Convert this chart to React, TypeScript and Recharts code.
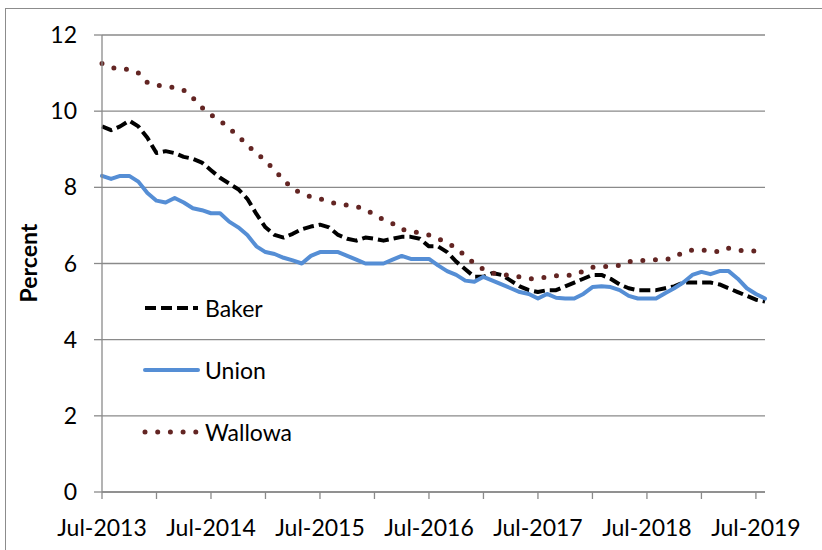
import React from 'react';
import { LineChart, Line, XAxis, YAxis, CartesianGrid, Label } from 'recharts';

// monthly, Jul-2013 .. Aug-2019
const MONTHS: string[] = [];
const MON_NAMES = ['Jul', 'Aug', 'Sep', 'Oct', 'Nov', 'Dec', 'Jan', 'Feb', 'Mar', 'Apr', 'May', 'Jun'];
for (let i = 0; i < 74; i++) {
  const year = 2013 + Math.floor((i + 6) / 12);
  MONTHS.push(`${MON_NAMES[i % 12]}-${year}`);
}

const BAKER = [
  9.6, 9.5, 9.6, 9.75, 9.6, 9.3, 8.9, 8.95, 8.9, 8.8, 8.75, 8.65,
  8.45, 8.25, 8.1, 7.95, 7.7, 7.3, 6.95, 6.75, 6.68, 6.78, 6.9, 6.97,
  7.02, 6.95, 6.75, 6.65, 6.6, 6.68, 6.65, 6.6, 6.65, 6.7, 6.7, 6.65,
  6.45, 6.45, 6.3, 6.05, 5.85, 5.65, 5.65, 5.75, 5.7, 5.55, 5.4, 5.3,
  5.25, 5.3, 5.3, 5.4, 5.5, 5.6, 5.7, 5.7, 5.6, 5.45, 5.35, 5.3,
  5.3, 5.3, 5.35, 5.4, 5.5, 5.5, 5.5, 5.5, 5.45, 5.35, 5.25, 5.15,
  5.05, 5.0,
];

const UNION = [
  8.3, 8.22, 8.3, 8.3, 8.15, 7.85, 7.65, 7.6, 7.72, 7.6, 7.45, 7.4,
  7.32, 7.32, 7.1, 6.95, 6.75, 6.45, 6.3, 6.25, 6.15, 6.08, 6.0, 6.2,
  6.3, 6.3, 6.3, 6.2, 6.1, 6.0, 6.0, 6.0, 6.1, 6.2, 6.12, 6.12,
  6.12, 5.95, 5.8, 5.7, 5.55, 5.52, 5.65, 5.55, 5.45, 5.35, 5.25, 5.2,
  5.08, 5.2, 5.1, 5.08, 5.08, 5.2, 5.38, 5.4, 5.38, 5.3, 5.15, 5.08,
  5.08, 5.08, 5.22, 5.35, 5.5, 5.7, 5.78, 5.72, 5.8, 5.8, 5.6, 5.35,
  5.2, 5.08,
];

const WALLOWA = [
  11.25, 11.15, 11.1, 11.1, 11.0, 10.75, 10.68, 10.65, 10.62, 10.55, 10.35, 10.1,
  9.9, 9.75, 9.55, 9.35, 9.1, 8.9, 8.7, 8.45, 8.2, 7.95, 7.85, 7.75,
  7.7, 7.62, 7.56, 7.53, 7.5, 7.42, 7.28, 7.15, 7.05, 6.9, 6.85, 6.8,
  6.75, 6.65, 6.55, 6.4, 6.2, 6.0, 5.85, 5.75, 5.7, 5.7, 5.65, 5.6,
  5.6, 5.65, 5.68, 5.68, 5.7, 5.8, 5.9, 5.92, 5.92, 5.95, 6.05, 6.05,
  6.1, 6.1, 6.1, 6.15, 6.3, 6.35, 6.35, 6.35, 6.3, 6.4, 6.35, 6.33,
  6.33, 6.33,
];

const X_TICKS = [0, 6, 12, 18, 24, 30, 36, 42, 48, 54, 60, 66, 72];
const Y_TICKS = [0, 2, 4, 6, 8, 10, 12];

const SERIES = [
  { key: 'Baker', color: '#000000', width: 4, dash: '11 5', cap: 'butt' as const },
  { key: 'Union', color: '#558ed5', width: 4, dash: undefined, cap: 'round' as const },
  { key: 'Wallowa', color: '#632523', width: 5, dash: '0 12.7', cap: 'round' as const },
];

const data = MONTHS.map((m, i) => ({
  idx: i,
  month: m,
  Baker: BAKER[i],
  Union: UNION[i],
  Wallowa: WALLOWA[i],
}));

const FONT = 'Lato, "Open Sans", sans-serif';
const AXIS_COLOR = '#8a8a8a';

const ChartLegend: React.FC = () => (
  <div style={{ position: 'absolute', left: 141, top: 277, fontFamily: FONT, fontSize: 23, color: '#000' }}>
    {SERIES.map(s => (
      <div key={s.key} style={{ display: 'flex', alignItems: 'center', height: 62 }}>
        <svg width={62} height={14} style={{ display: 'block' }}>
          <line x1={4} y1={7} x2={57} y2={7} stroke={s.color} strokeWidth={s.width}
            strokeDasharray={s.dash} strokeLinecap={s.cap} />
        </svg>
        <span style={{ marginLeft: 2 }}>{s.key}</span>
      </div>
    ))}
  </div>
);

const renderYLabel = () => (
  <text x={28} y={263} transform="rotate(-90 28 263)" textAnchor="middle" dominantBaseline="central"
    style={{ fontFamily: FONT, fontSize: 23, fontWeight: 700, fill: '#000' }}>
    Percent
  </text>
);

const App: React.FC = () => (
  <div style={{ position: 'absolute', left: 0, top: 0, width: 822, height: 550, overflow: 'hidden', background: '#fff' }}>
    <div style={{ position: 'absolute', left: 5, top: 8, width: 840, height: 560, border: '1px solid #8c8c8c' }} />
    <LineChart width={822} height={550} data={data} margin={{ top: 35, right: 57, left: 0, bottom: 0 }}
      style={{ position: 'absolute', left: 0, top: 0 }}>
      <CartesianGrid vertical={false} stroke={AXIS_COLOR} strokeWidth={1.3} />
      <XAxis dataKey="idx" type="number" domain={[0, 73]} ticks={X_TICKS} height={58}
        tickFormatter={(v: number) => (v % 12 === 0 ? MONTHS[v] : '')}
        tickSize={7} tickMargin={21} interval={0}
        axisLine={{ stroke: AXIS_COLOR, strokeWidth: 1.3 }} tickLine={{ stroke: AXIS_COLOR, strokeWidth: 1.3 }}
        tick={{ fill: '#000', fontFamily: FONT, fontSize: 23 }} />
      <YAxis type="number" domain={[0, 12]} ticks={Y_TICKS} width={102} interval={0}
        tickSize={8} tickMargin={17}
        axisLine={{ stroke: AXIS_COLOR, strokeWidth: 1.3 }} tickLine={{ stroke: AXIS_COLOR, strokeWidth: 1.3 }}
        tick={{ fill: '#000', fontFamily: FONT, fontSize: 23 }}>
        <Label content={renderYLabel} />
      </YAxis>
      {SERIES.map(s => (
        <Line key={s.key} dataKey={s.key} type="linear" stroke={s.color} strokeWidth={s.width}
          strokeDasharray={s.dash} strokeLinecap={s.cap} strokeLinejoin="round"
          dot={false} activeDot={false} isAnimationActive={false} />
      ))}
    </LineChart>
    <ChartLegend />
  </div>
);

export default App;
